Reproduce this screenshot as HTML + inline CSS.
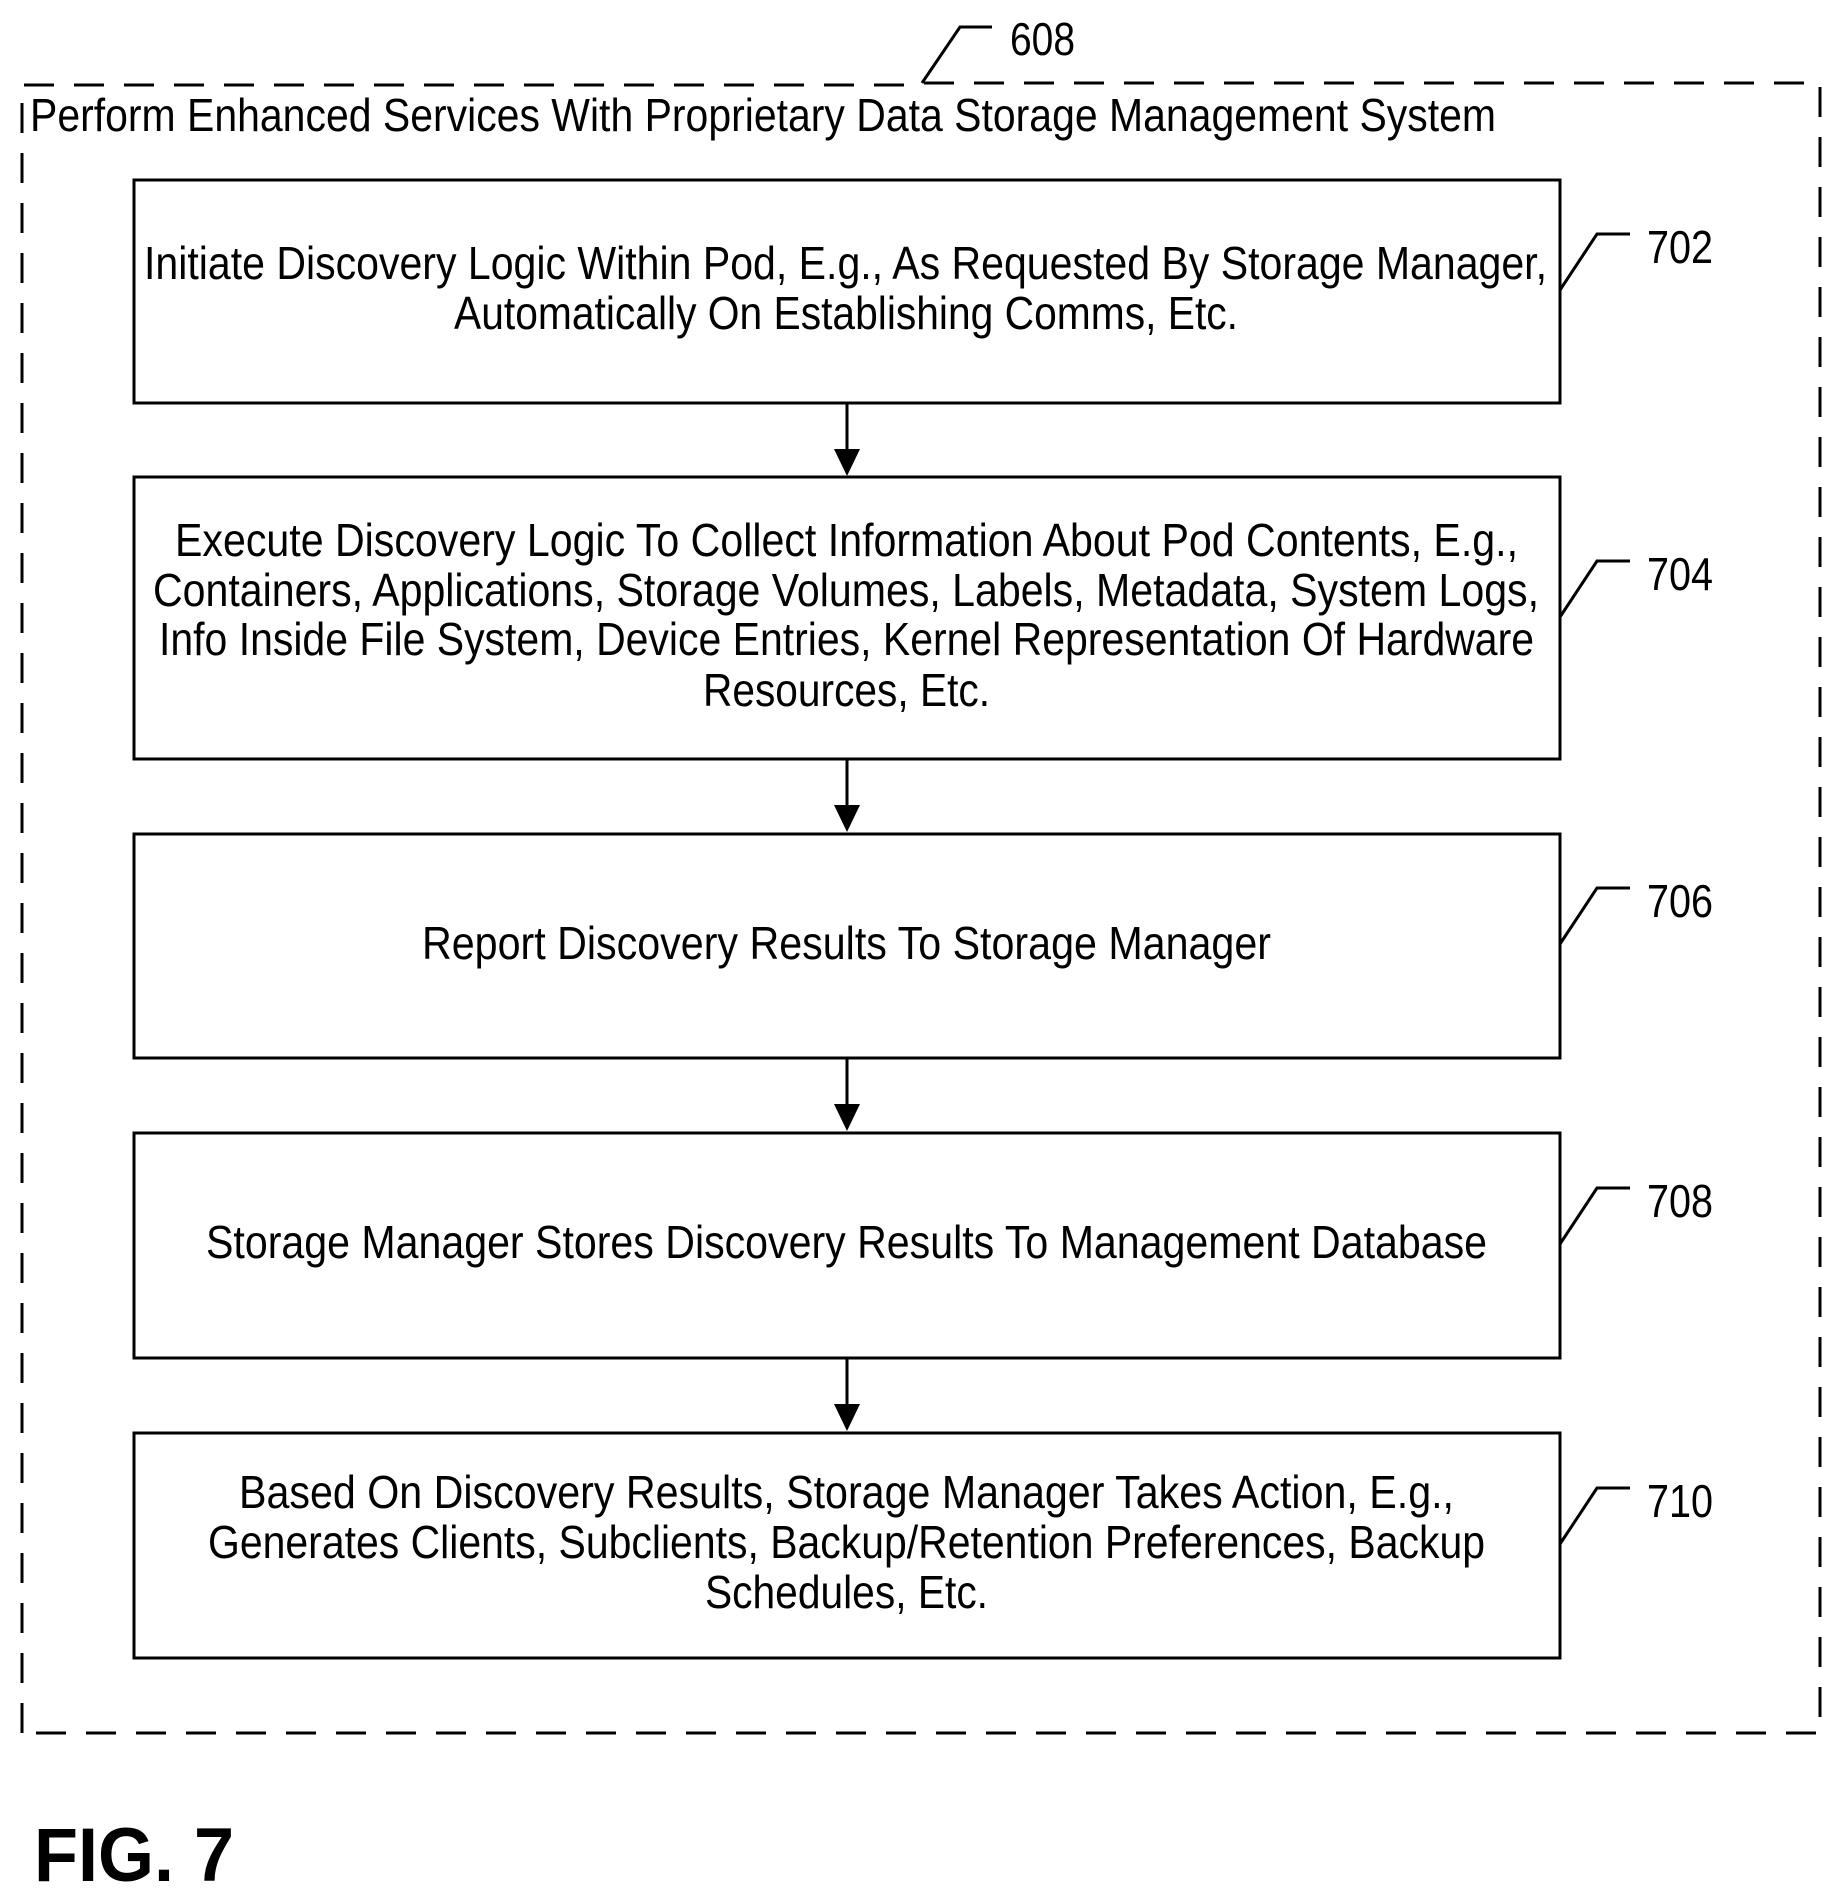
<!DOCTYPE html>
<html><head><meta charset="utf-8"><style>html,body{margin:0;padding:0;background:#fff}svg{display:block}</style></head>
<body>
<svg width="1844" height="1903" viewBox="0 0 1844 1903" xmlns="http://www.w3.org/2000/svg" font-family="Liberation Sans, sans-serif" font-size="46" fill="#000">
<g fill="none" stroke="#000" stroke-width="3" stroke-dasharray="30 20">
<path d="M22 1733 V85 H920"/>
<path d="M924 83 H1820 V1733 H22"/>
</g>
<path d="M922 83 L960 27 H992" fill="none" stroke="#000" stroke-width="3"/>
<text x="1010" y="55" font-size="46" textLength="65" lengthAdjust="spacingAndGlyphs">608</text>
<text x="30" y="131" textLength="1466" lengthAdjust="spacingAndGlyphs">Perform Enhanced Services With Proprietary Data Storage Management System</text>
<g fill="none" stroke="#000" stroke-width="3">
<rect x="134" y="180" width="1426" height="223"/>
<rect x="134" y="477" width="1426" height="282"/>
<rect x="134" y="834" width="1426" height="224"/>
<rect x="134" y="1133" width="1426" height="225"/>
<rect x="134" y="1433" width="1426" height="225"/>
<path d="M847 403 V452 M847 759 V808 M847 1058 V1107 M847 1358 V1407"/>
<path d="M1560 290 L1597 234 H1630 M1560 617 L1597 561 H1630 M1560 944 L1597 888 H1630 M1560 1244 L1597 1188 H1630 M1560 1544 L1597 1488 H1630"/>
</g>
<g>
<path d="M834 449 H860 L847 476 Z"/>
<path d="M834 805 H860 L847 832 Z"/>
<path d="M834 1104 H860 L847 1131 Z"/>
<path d="M834 1404 H860 L847 1431 Z"/>
</g>
<g font-size="46">
<text x="1647" y="263" textLength="66" lengthAdjust="spacingAndGlyphs">702</text>
<text x="1647" y="590" textLength="66" lengthAdjust="spacingAndGlyphs">704</text>
<text x="1647" y="917" textLength="66" lengthAdjust="spacingAndGlyphs">706</text>
<text x="1647" y="1217" textLength="66" lengthAdjust="spacingAndGlyphs">708</text>
<text x="1647" y="1517" textLength="66" lengthAdjust="spacingAndGlyphs">710</text>
</g>
<g>
<text x="144" y="279" textLength="1403" lengthAdjust="spacingAndGlyphs">Initiate Discovery Logic Within Pod, E.g., As Requested By Storage Manager,</text>
<text x="454" y="329" textLength="784" lengthAdjust="spacingAndGlyphs">Automatically On Establishing Comms, Etc.</text>
<text x="175" y="556" textLength="1343" lengthAdjust="spacingAndGlyphs">Execute Discovery Logic To Collect Information About Pod Contents, E.g.,</text>
<text x="153" y="606" textLength="1386" lengthAdjust="spacingAndGlyphs">Containers, Applications, Storage Volumes, Labels, Metadata, System Logs,</text>
<text x="159" y="655" textLength="1375" lengthAdjust="spacingAndGlyphs">Info Inside File System, Device Entries, Kernel Representation Of Hardware</text>
<text x="703" y="706" textLength="287" lengthAdjust="spacingAndGlyphs">Resources, Etc.</text>
<text x="422" y="959" textLength="849" lengthAdjust="spacingAndGlyphs">Report Discovery Results To Storage Manager</text>
<text x="206" y="1258" textLength="1281" lengthAdjust="spacingAndGlyphs">Storage Manager Stores Discovery Results To Management Database</text>
<text x="239" y="1508" textLength="1215" lengthAdjust="spacingAndGlyphs">Based On Discovery Results, Storage Manager Takes Action, E.g.,</text>
<text x="208" y="1558" textLength="1277" lengthAdjust="spacingAndGlyphs">Generates Clients, Subclients, Backup/Retention Preferences, Backup</text>
<text x="705" y="1608" textLength="283" lengthAdjust="spacingAndGlyphs">Schedules, Etc.</text>
</g>
<text x="34" y="1881" font-size="76" font-weight="bold" textLength="200" lengthAdjust="spacingAndGlyphs">FIG. 7</text>
</svg>
</body></html>
